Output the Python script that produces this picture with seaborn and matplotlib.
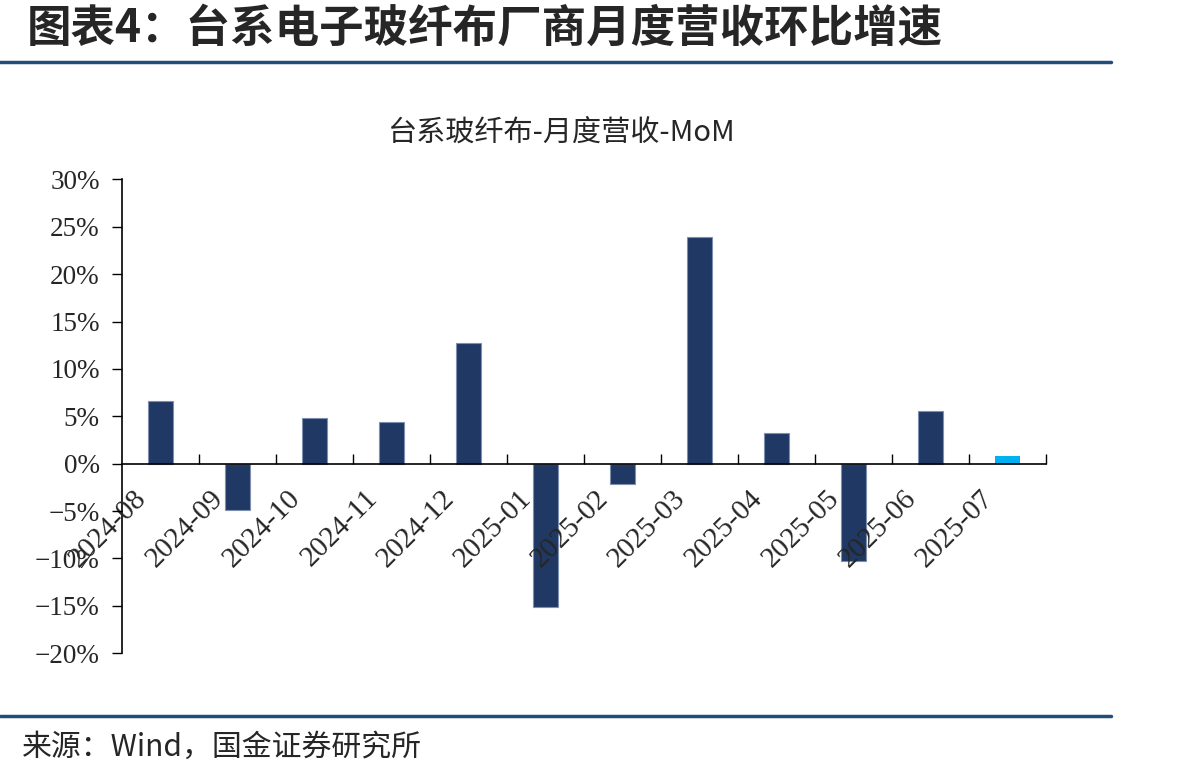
import matplotlib
matplotlib.use("Agg")
import matplotlib.pyplot as plt
import matplotlib.transforms as mtransforms
from matplotlib.lines import Line2D
from matplotlib.ticker import FixedLocator, FuncFormatter
import seaborn as sns
import pandas as pd

# Data
months = ["2024-08", "2024-09", "2024-10", "2024-11", "2024-12", "2025-01",
          "2025-02", "2025-03", "2025-04", "2025-05", "2025-06", "2025-07"]
mom = [6.6, -4.9, 4.8, 4.4, 12.7, -15.1, -2.1, 23.9, 3.2, -10.3, 5.6, 0.8]
bar_colors = ["#203864"] * 11 + ["#00B0F0"]

header = "图表4：台系电子玻纤布厂商月度营收环比增速"
chart_title = "台系玻纤布-月度营收-MoM"
source = "来源：Wind，国金证券研究所"

df = pd.DataFrame({"month": months, "mom": mom})

sns.set_theme(style="white")
plt.rcParams["font.family"] = ["Noto Sans CJK SC", "DejaVu Sans"]
serif = ["Liberation Serif", "DejaVu Serif"]

fig = plt.figure(figsize=(11.98, 7.78), dpi=100)
ax = fig.add_axes([0.1018, 0.1603, 0.7712, 0.6092])

sns.barplot(data=df, x="month", y="mom", hue="month", palette=bar_colors,
            legend=False, width=0.32, ax=ax, saturation=1)
for i, p in enumerate(ax.patches):
    if i < 11:
        p.set_edgecolor("#7F8FB0")
        p.set_linewidth(0.8)
    else:
        p.set_linewidth(0)

ax.set_axisbelow(False)
ax.set_xlim(-0.5, len(months) - 0.5)
ax.set_ylim(-20, 30)
ax.set_yticks(range(-20, 31, 5))
ax.yaxis.set_major_formatter(FuncFormatter(lambda v, _: f"{v:.0f}%".replace("-", "\u2212")))

ax.set_xlabel("")
ax.set_ylabel("")
ax.grid(False)

for s in ["top", "right"]:
    ax.spines[s].set_visible(False)
ax.spines["bottom"].set_position(("data", 0))
for s in ["left", "bottom"]:
    ax.spines[s].set_color("black")
    ax.spines[s].set_linewidth(1.2)

# y ticks
ax.tick_params(axis="y", which="major", direction="out", length=7, width=1,
               color="black", left=True, labelsize=19.5, pad=9)
for lab in ax.get_yticklabels():
    lab.set_fontfamily(serif)

# x ticks: labels at centers, tick marks at boundaries
ax.xaxis.set_minor_locator(FixedLocator([i + 0.5 for i in range(len(months))]))
ax.tick_params(axis="x", which="minor", direction="in", length=7, width=1,
               color="black", bottom=True)
ax.tick_params(axis="x", which="major", length=0, labelsize=21, pad=22)
offset = mtransforms.ScaledTranslation(-18 / 100, 0, fig.dpi_scale_trans)
for lab in ax.get_xticklabels():
    lab.set_rotation(45)
    lab.set_ha("right")
    lab.set_va("center")
    lab.set_rotation_mode("anchor")
    lab.set_fontfamily(serif)
    lab.set_transform(lab.get_transform() + offset)

# titles and decorations
fig.text(0.022, 0.963, header, fontsize=32, fontweight="bold", ha="left", va="center")
fig.text(0.468, 0.830, chart_title, fontsize=21, ha="center", va="center")
fig.text(0.018, 0.040, source, fontsize=21.5, ha="left", va="center")

fig.add_artist(Line2D([0, 0.927], [1 - 62 / 778] * 2, color="#1F4E79", linewidth=2.5,
                      transform=fig.transFigure))
fig.add_artist(Line2D([0, 0.927], [1 - 716 / 778] * 2, color="#1F4E79", linewidth=2.5,
                      transform=fig.transFigure))

fig.savefig("out.png", dpi=100)
